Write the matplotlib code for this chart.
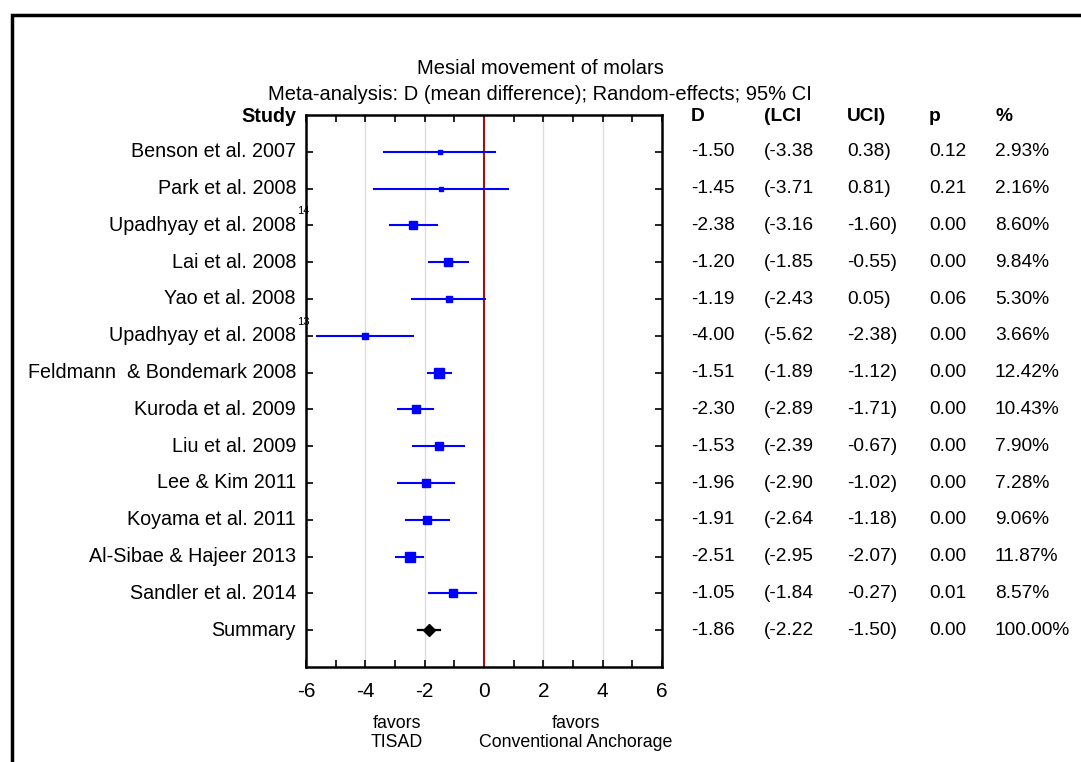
import matplotlib
matplotlib.use("Agg")
import matplotlib.pyplot as plt
import numpy as np
from matplotlib.transforms import blended_transform_factory
from matplotlib.patches import Rectangle

plt.rcParams['font.family'] = ['Liberation Sans', 'DejaVu Sans']

studies = ["Benson et al. 2007", "Park et al. 2008", "Upadhyay et al. 2008",
           "Lai et al. 2008", "Yao et al. 2008", "Upadhyay et al. 2008",
           "Feldmann  & Bondemark 2008", "Kuroda et al. 2009", "Liu et al. 2009",
           "Lee & Kim 2011", "Koyama et al. 2011", "Al-Sibae & Hajeer 2013",
           "Sandler et al. 2014", "Summary"]
refs = ["", "", "14", "", "", "13", "", "", "", "", "", "", "", ""]
d = [-1.50, -1.45, -2.38, -1.20, -1.19, -4.00, -1.51, -2.30, -1.53, -1.96, -1.91, -2.51, -1.05, -1.86]
lci = [-3.38, -3.71, -3.16, -1.85, -2.43, -5.62, -1.89, -2.89, -2.39, -2.90, -2.64, -2.95, -1.84, -2.22]
uci = [0.38, 0.81, -1.60, -0.55, 0.05, -2.38, -1.12, -1.71, -0.67, -1.02, -1.18, -2.07, -0.27, -1.50]
pval = [0.12, 0.21, 0.00, 0.00, 0.06, 0.00, 0.00, 0.00, 0.00, 0.00, 0.00, 0.00, 0.01, 0.00]
weight = [2.93, 2.16, 8.60, 9.84, 5.30, 3.66, 12.42, 10.43, 7.90, 7.28, 9.06, 11.87, 8.57, 100.00]

W, H = 1081, 762
fig = plt.figure(figsize=(W / 100, H / 100), dpi=100)
ax = fig.add_axes([306 / W, 1 - 667 / H, 356 / W, 552 / H])

rows = np.arange(1, len(studies) + 1)
blue = '#0000ff'
for i, r in enumerate(rows):
    if studies[i] == "Summary":
        ax.plot([lci[i], uci[i]], [r, r], color='black', lw=1.6, zorder=3)
        ax.plot(d[i], r, marker='D', color='black', ms=6.5, zorder=4)
    else:
        ax.plot([lci[i], uci[i]], [r, r], color=blue, lw=1.5, zorder=3)
        ax.plot(d[i], r, marker='s', color=blue, ms=2.0 * np.sqrt(weight[i]), zorder=4)

ax.axvline(0, color='#a01010', lw=1.5, zorder=2)
for gx in [-4, -2, 2, 4]:
    ax.axvline(gx, color='#dddddd', lw=1, zorder=1)

ax.set_xlim(-6, 6)
ax.set_ylim(15, 0)
ax.set_xticks([-6, -4, -2, 0, 2, 4, 6])
ax.set_xticklabels(['-6', '-4', '-2', '0', '2', '4', '6'], fontsize=15)
ax.set_xticks(np.arange(-5, 6, 2), minor=True)
ax.set_yticks(rows)
ax.set_yticklabels([])
ax.tick_params(axis='both', which='both', direction='in', top=True, right=True,
               length=5, width=1.2)
ax.tick_params(axis='x', pad=11)
for s in ax.spines.values():
    s.set_linewidth(1.8)

tr = blended_transform_factory(fig.transFigure, ax.transData)
fs = 14.2
ax.text(296 / W, 0.05, "Study", transform=tr, ha='right', va='center', fontsize=fs, fontweight='bold')
for i, r in enumerate(rows):
    ax.text(296 / W, r, studies[i], transform=tr, ha='right', va='center', fontsize=fs)
    if refs[i]:
        ax.text(297 / W, r - 0.38, refs[i], transform=tr, ha='left', va='center', fontsize=8)

cols_x = [691, 764, 847, 929, 995]
headers = ["D", "(LCI", "UCI)", "p", "%"]
fs2 = 13.8
for cx, h in zip(cols_x, headers):
    ax.text(cx / W, 0.05, h, transform=tr, ha='left', va='center', fontsize=fs2, fontweight='bold')
for i, r in enumerate(rows):
    vals = ["%.2f" % d[i], "(%.2f" % lci[i], "%.2f)" % uci[i], "%.2f" % pval[i], "%.2f%%" % weight[i]]
    for cx, v in zip(cols_x, vals):
        ax.text(cx / W, r, v, transform=tr, ha='left', va='center', fontsize=fs2)

fig.text(540 / W, 1 - 68 / H, "Mesial movement of molars", ha='center', va='center', fontsize=14.5)
fig.text(540 / W, 1 - 94 / H, "Meta-analysis: D (mean difference); Random-effects; 95% CI",
         ha='center', va='center', fontsize=14.5)

fig.text(397 / W, 1 - 733 / H, "favors\nTISAD", ha='center', va='center', fontsize=12.8, linespacing=1.2)
fig.text(576 / W, 1 - 733 / H, "favors\nConventional Anchorage", ha='center', va='center', fontsize=12.8,
         linespacing=1.2)

fig.add_artist(Rectangle((12 / W, -0.05), 1.1, 1 - 15 / H + 0.05, transform=fig.transFigure,
                         fill=False, edgecolor='black', lw=2.5))

fig.savefig("out.png", dpi=100)
